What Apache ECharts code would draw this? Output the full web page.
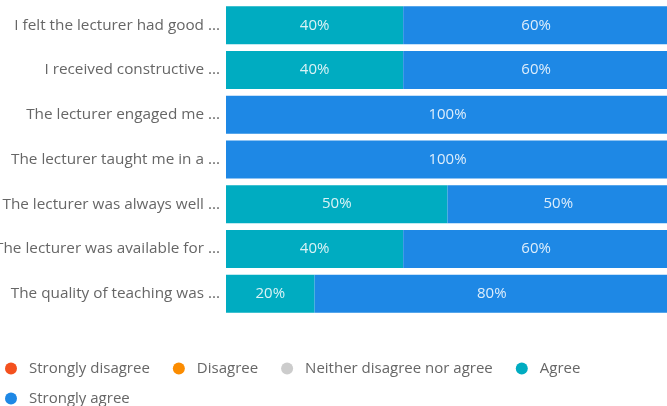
<!DOCTYPE html>
<html><head><meta charset="utf-8">
<script src="https://cdn.jsdelivr.net/npm/echarts@6/dist/echarts.min.js"></script>
<style>html,body{margin:0;padding:0;background:#fff}#c{width:667px;height:406px}</style>
</head><body><div id="c"></div>
<script>
const categories = [
  "I felt the lecturer had good ...",
  "I received constructive ...",
  "The lecturer engaged me ...",
  "The lecturer taught me in a ...",
  "The lecturer was always well ...",
  "The lecturer was available for ...",
  "The quality of teaching was ..."
];
const seriesNames = ["Strongly disagree","Disagree","Neither disagree nor agree","Agree","Strongly agree"];
const stronglyDisagree = [0,0,0,0,0,0,0];
const disagree = [0,0,0,0,0,0,0];
const neither = [0,0,0,0,0,0,0];
const agree = [40,40,0,0,50,40,20];
const stronglyAgree = [60,60,100,100,50,60,80];
const colors = ["#f4511e","#fb8c00","#cccccc","#00acc1","#1e88e5"];
const values = [stronglyDisagree, disagree, neither, agree, stronglyAgree];

const legendBase = {left:0, itemGap:23, icon:'circle', itemWidth:12, itemHeight:12,
  textStyle:{color:'#666', fontSize:15, padding:[0,0,0,7], fontFamily:'Open Sans'}};

const chart = echarts.init(document.getElementById('c'));
chart.setOption({
  animation:false,
  textStyle:{fontFamily:'Open Sans'},
  grid:{left:226, top:3, width:443, height:313, containLabel:false, outerBoundsMode:'none'},
  xAxis:{type:'value', min:0, max:100, show:false},
  yAxis:{type:'category', data:categories, inverse:true,
    axisLine:{show:false}, axisTick:{show:false},
    axisLabel:{color:'#666', fontSize:15.3, margin:6, fontFamily:'Open Sans'}},
  legend:[
    Object.assign({}, legendBase, {top:356, data:seriesNames.slice(0,4)}),
    Object.assign({}, legendBase, {top:386, data:seriesNames.slice(4)})
  ],
  series: seriesNames.map((n,i)=>({
    name:n, type:'bar', stack:'total', barCategoryGap:'15%',
    itemStyle:{color:colors[i]},
    label:{show:true, position:'inside', color:'rgba(255,255,255,0.85)', fontSize:15, fontFamily:'Open Sans',
      formatter:p=>p.value>0?p.value+'%':''},
    data:values[i]
  }))
});
</script></body></html>
